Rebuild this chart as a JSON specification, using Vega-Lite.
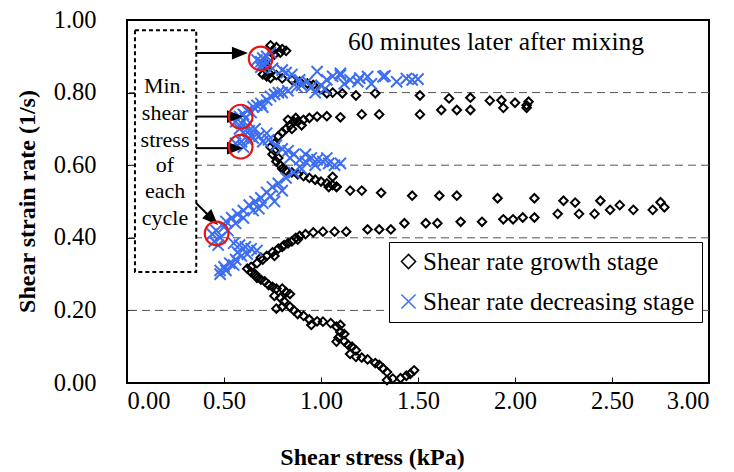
{
"$schema":"https://vega.github.io/schema/vega-lite/v6.json",
"width":582,"height":363,
"autosize":{"type":"none"},
"padding":{"left":127,"top":20,"right":25,"bottom":89},
"background":"white",
"config":{"view":{"stroke":"black","strokeWidth":2},"font":"Liberation Serif"},
"datasets":{
"pts":[
{"s":"g","x":0.74,"y":0.93},{"s":"g","x":0.77,"y":0.925},{"s":"g","x":0.80,"y":0.92},{"s":"g","x":0.82,"y":0.915},{"s":"g","x":0.79,"y":0.91},{"s":"g","x":0.76,"y":0.905},{"s":"g","x":0.73,"y":0.895},{"s":"g","x":0.71,"y":0.88},{"s":"g","x":0.72,"y":0.87},{"s":"g","x":0.75,"y":0.915},
{"s":"g","x":0.70,"y":0.85},{"s":"g","x":0.72,"y":0.845},{"s":"g","x":0.74,"y":0.84},{"s":"g","x":0.73,"y":0.855},{"s":"g","x":0.77,"y":0.848},{"s":"g","x":0.80,"y":0.839},{"s":"g","x":0.85,"y":0.835},{"s":"g","x":0.89,"y":0.83},{"s":"g","x":0.93,"y":0.825},{"s":"g","x":0.96,"y":0.821},{"s":"g","x":1.00,"y":0.81},{"s":"g","x":1.03,"y":0.798},{"s":"g","x":1.06,"y":0.80},
{"s":"g","x":1.11,"y":0.798},{"s":"g","x":1.18,"y":0.792},{"s":"g","x":1.28,"y":0.798},{"s":"g","x":1.51,"y":0.792},{"s":"g","x":1.66,"y":0.784},{"s":"g","x":1.77,"y":0.786},{"s":"g","x":1.87,"y":0.778},{"s":"g","x":1.93,"y":0.779},{"s":"g","x":2.00,"y":0.772},{"s":"g","x":2.07,"y":0.775},{"s":"g","x":2.06,"y":0.765},
{"s":"g","x":1.10,"y":0.732},{"s":"g","x":1.21,"y":0.740},{"s":"g","x":1.30,"y":0.740},{"s":"g","x":1.51,"y":0.740},{"s":"g","x":1.62,"y":0.752},{"s":"g","x":1.70,"y":0.752},{"s":"g","x":1.77,"y":0.752},{"s":"g","x":1.94,"y":0.758},{"s":"g","x":2.06,"y":0.758},
{"s":"g","x":0.84,"y":0.71},{"s":"g","x":0.86,"y":0.72},{"s":"g","x":0.88,"y":0.72},{"s":"g","x":0.91,"y":0.725},{"s":"g","x":0.94,"y":0.73},{"s":"g","x":0.98,"y":0.734},{"s":"g","x":1.03,"y":0.735},{"s":"g","x":0.83,"y":0.725},{"s":"g","x":0.87,"y":0.73},{"s":"g","x":0.90,"y":0.71},{"s":"g","x":0.85,"y":0.70},{"s":"g","x":0.82,"y":0.70},{"s":"g","x":0.80,"y":0.69},{"s":"g","x":0.78,"y":0.68},
{"s":"g","x":0.76,"y":0.66},{"s":"g","x":0.74,"y":0.65},{"s":"g","x":0.75,"y":0.63},{"s":"g","x":0.77,"y":0.61},{"s":"g","x":0.79,"y":0.60},{"s":"g","x":0.78,"y":0.62},{"s":"g","x":0.76,"y":0.64},
{"s":"g","x":0.80,"y":0.59},{"s":"g","x":0.82,"y":0.585},{"s":"g","x":0.85,"y":0.58},{"s":"g","x":0.88,"y":0.575},{"s":"g","x":0.91,"y":0.57},{"s":"g","x":0.94,"y":0.565},{"s":"g","x":0.97,"y":0.56},{"s":"g","x":1.00,"y":0.555},{"s":"g","x":1.03,"y":0.55},{"s":"g","x":1.06,"y":0.545},{"s":"g","x":1.08,"y":0.54},{"s":"g","x":1.04,"y":0.54},{"s":"g","x":1.06,"y":0.568},{"s":"g","x":1.08,"y":0.541},
{"s":"g","x":1.15,"y":0.530},{"s":"g","x":1.21,"y":0.530},{"s":"g","x":1.31,"y":0.524},{"s":"g","x":1.47,"y":0.516},{"s":"g","x":1.61,"y":0.516},{"s":"g","x":1.70,"y":0.516},{"s":"g","x":1.91,"y":0.509},{"s":"g","x":2.10,"y":0.509},{"s":"g","x":2.25,"y":0.502},{"s":"g","x":2.31,"y":0.497},{"s":"g","x":2.44,"y":0.502},{"s":"g","x":2.49,"y":0.477},{"s":"g","x":2.54,"y":0.490},{"s":"g","x":2.61,"y":0.477},{"s":"g","x":2.71,"y":0.477},{"s":"g","x":2.75,"y":0.498},{"s":"g","x":2.77,"y":0.484},
{"s":"g","x":0.96,"y":0.415},{"s":"g","x":1.01,"y":0.417},{"s":"g","x":1.07,"y":0.417},{"s":"g","x":1.13,"y":0.417},{"s":"g","x":1.24,"y":0.423},{"s":"g","x":1.30,"y":0.423},{"s":"g","x":1.36,"y":0.423},{"s":"g","x":1.43,"y":0.440},{"s":"g","x":1.54,"y":0.440},{"s":"g","x":1.60,"y":0.440},{"s":"g","x":1.72,"y":0.444},{"s":"g","x":1.83,"y":0.444},{"s":"g","x":1.94,"y":0.451},{"s":"g","x":1.99,"y":0.451},{"s":"g","x":2.04,"y":0.456},{"s":"g","x":2.10,"y":0.456},{"s":"g","x":2.22,"y":0.466},{"s":"g","x":2.33,"y":0.466},{"s":"g","x":2.41,"y":0.466},
{"s":"g","x":0.64,"y":0.32},{"s":"g","x":0.67,"y":0.33},{"s":"g","x":0.70,"y":0.34},{"s":"g","x":0.72,"y":0.35},{"s":"g","x":0.75,"y":0.36},{"s":"g","x":0.78,"y":0.37},{"s":"g","x":0.80,"y":0.375},{"s":"g","x":0.83,"y":0.385},{"s":"g","x":0.85,"y":0.39},{"s":"g","x":0.87,"y":0.40},{"s":"g","x":0.89,"y":0.405},{"s":"g","x":0.92,"y":0.41},{"s":"g","x":0.88,"y":0.395},{"s":"g","x":0.76,"y":0.35},{"s":"g","x":0.69,"y":0.345},{"s":"g","x":0.81,"y":0.38},
{"s":"g","x":0.62,"y":0.315},{"s":"g","x":0.64,"y":0.305},{"s":"g","x":0.66,"y":0.30},{"s":"g","x":0.67,"y":0.29},{"s":"g","x":0.69,"y":0.285},{"s":"g","x":0.71,"y":0.28},{"s":"g","x":0.73,"y":0.27},{"s":"g","x":0.75,"y":0.265},{"s":"g","x":0.77,"y":0.26},{"s":"g","x":0.80,"y":0.26},{"s":"g","x":0.82,"y":0.25},{"s":"g","x":0.84,"y":0.245},{"s":"g","x":0.76,"y":0.24},{"s":"g","x":0.79,"y":0.235},{"s":"g","x":0.81,"y":0.225},{"s":"g","x":0.77,"y":0.205},{"s":"g","x":0.80,"y":0.21},{"s":"g","x":0.84,"y":0.21},{"s":"g","x":0.86,"y":0.20},{"s":"g","x":0.88,"y":0.19},{"s":"g","x":0.91,"y":0.185},{"s":"g","x":0.94,"y":0.175},{"s":"g","x":0.98,"y":0.17},{"s":"g","x":0.95,"y":0.16},{"s":"g","x":1.01,"y":0.169},{"s":"g","x":1.05,"y":0.165},{"s":"g","x":1.10,"y":0.16},{"s":"g","x":1.08,"y":0.155},{"s":"g","x":1.10,"y":0.14},{"s":"g","x":1.12,"y":0.135},{"s":"g","x":1.09,"y":0.125},{"s":"g","x":1.08,"y":0.114},{"s":"g","x":1.12,"y":0.115},{"s":"g","x":1.14,"y":0.105},{"s":"g","x":1.16,"y":0.10},{"s":"g","x":1.18,"y":0.09},{"s":"g","x":1.15,"y":0.08},{"s":"g","x":1.18,"y":0.072},{"s":"g","x":1.21,"y":0.07},{"s":"g","x":1.24,"y":0.065},{"s":"g","x":1.28,"y":0.055},{"s":"g","x":1.30,"y":0.05},{"s":"g","x":1.32,"y":0.04},{"s":"g","x":1.34,"y":0.03},{"s":"g","x":1.34,"y":0.008},{"s":"g","x":1.37,"y":0.012},{"s":"g","x":1.41,"y":0.013},{"s":"g","x":1.44,"y":0.02},{"s":"g","x":1.48,"y":0.035},{"s":"g","x":1.46,"y":0.025},
{"s":"d","x":0.67,"y":0.89},{"s":"d","x":0.69,"y":0.885},{"s":"d","x":0.70,"y":0.895},{"s":"d","x":0.71,"y":0.875},{"s":"d","x":0.69,"y":0.87},{"s":"d","x":0.72,"y":0.90},{"s":"d","x":0.74,"y":0.91},{"s":"d","x":0.70,"y":0.88},
{"s":"d","x":0.75,"y":0.867},{"s":"d","x":0.80,"y":0.862},{"s":"d","x":0.82,"y":0.855},{"s":"d","x":0.85,"y":0.85},{"s":"d","x":0.89,"y":0.835},{"s":"d","x":0.93,"y":0.83},{"s":"d","x":0.98,"y":0.858},{"s":"d","x":1.03,"y":0.835},{"s":"d","x":1.06,"y":0.845},{"s":"d","x":1.10,"y":0.848},{"s":"d","x":1.15,"y":0.835},{"s":"d","x":1.20,"y":0.84},{"s":"d","x":1.10,"y":0.853},{"s":"d","x":1.12,"y":0.824},{"s":"d","x":1.19,"y":0.830},{"s":"d","x":1.24,"y":0.844},{"s":"d","x":1.26,"y":0.824},{"s":"d","x":1.33,"y":0.846},{"s":"d","x":1.39,"y":0.830},{"s":"d","x":1.44,"y":0.839},{"s":"d","x":1.47,"y":0.835},{"s":"d","x":1.50,"y":0.837},{"s":"d","x":1.32,"y":0.844},{"s":"d","x":1.00,"y":0.82},{"s":"d","x":0.95,"y":0.815},{"s":"d","x":0.97,"y":0.80},{"s":"d","x":1.02,"y":0.81},
{"s":"d","x":0.58,"y":0.734},{"s":"d","x":0.60,"y":0.74},{"s":"d","x":0.62,"y":0.75},{"s":"d","x":0.65,"y":0.761},{"s":"d","x":0.67,"y":0.765},{"s":"d","x":0.69,"y":0.77},{"s":"d","x":0.72,"y":0.78},{"s":"d","x":0.74,"y":0.79},{"s":"d","x":0.76,"y":0.795},{"s":"d","x":0.80,"y":0.80},{"s":"d","x":0.83,"y":0.805},{"s":"d","x":0.875,"y":0.816},{"s":"d","x":0.90,"y":0.82},{"s":"d","x":0.61,"y":0.73},{"s":"d","x":0.64,"y":0.745},{"s":"d","x":0.70,"y":0.76},{"s":"d","x":0.78,"y":0.80},
{"s":"d","x":0.56,"y":0.72},{"s":"d","x":0.59,"y":0.715},{"s":"d","x":0.62,"y":0.71},{"s":"d","x":0.58,"y":0.70},{"s":"d","x":0.60,"y":0.69},{"s":"d","x":0.63,"y":0.695},{"s":"d","x":0.66,"y":0.70},{"s":"d","x":0.64,"y":0.68},
{"s":"d","x":0.56,"y":0.66},{"s":"d","x":0.59,"y":0.665},{"s":"d","x":0.62,"y":0.67},{"s":"d","x":0.65,"y":0.675},{"s":"d","x":0.68,"y":0.68},{"s":"d","x":0.72,"y":0.688},{"s":"d","x":0.70,"y":0.665},{"s":"d","x":0.73,"y":0.67},{"s":"d","x":0.60,"y":0.65},
{"s":"d","x":0.77,"y":0.655},{"s":"d","x":0.80,"y":0.645},{"s":"d","x":0.83,"y":0.64},{"s":"d","x":0.86,"y":0.63},{"s":"d","x":0.84,"y":0.62},{"s":"d","x":0.89,"y":0.615},{"s":"d","x":0.92,"y":0.61},{"s":"d","x":0.95,"y":0.62},{"s":"d","x":0.98,"y":0.615},{"s":"d","x":1.01,"y":0.61},{"s":"d","x":1.04,"y":0.605},{"s":"d","x":1.07,"y":0.60},{"s":"d","x":1.10,"y":0.605},{"s":"d","x":0.97,"y":0.60},{"s":"d","x":1.03,"y":0.62},{"s":"d","x":0.92,"y":0.63},
{"s":"d","x":0.90,"y":0.59},{"s":"d","x":0.86,"y":0.58},{"s":"d","x":0.82,"y":0.565},{"s":"d","x":0.78,"y":0.55},{"s":"d","x":0.75,"y":0.54},{"s":"d","x":0.72,"y":0.525},{"s":"d","x":0.69,"y":0.51},{"s":"d","x":0.66,"y":0.50},{"s":"d","x":0.63,"y":0.49},{"s":"d","x":0.60,"y":0.475},{"s":"d","x":0.57,"y":0.465},{"s":"d","x":0.54,"y":0.455},{"s":"d","x":0.51,"y":0.445},{"s":"d","x":0.74,"y":0.515},{"s":"d","x":0.80,"y":0.53},{"s":"d","x":0.70,"y":0.495},{"s":"d","x":0.65,"y":0.475},{"s":"d","x":0.56,"y":0.44},{"s":"d","x":0.60,"y":0.455},{"s":"d","x":0.68,"y":0.48},{"s":"d","x":0.76,"y":0.50},
{"s":"d","x":0.44,"y":0.41},{"s":"d","x":0.46,"y":0.42},{"s":"d","x":0.48,"y":0.40},{"s":"d","x":0.45,"y":0.39},{"s":"d","x":0.50,"y":0.43},{"s":"d","x":0.47,"y":0.38},{"s":"d","x":0.52,"y":0.42},
{"s":"d","x":0.55,"y":0.385},{"s":"d","x":0.58,"y":0.38},{"s":"d","x":0.61,"y":0.375},{"s":"d","x":0.64,"y":0.37},{"s":"d","x":0.67,"y":0.365},{"s":"d","x":0.62,"y":0.355},{"s":"d","x":0.59,"y":0.35},{"s":"d","x":0.56,"y":0.34},{"s":"d","x":0.53,"y":0.33},{"s":"d","x":0.50,"y":0.32},{"s":"d","x":0.48,"y":0.30},{"s":"d","x":0.51,"y":0.31},{"s":"d","x":0.55,"y":0.325},{"s":"d","x":0.48,"y":0.31},{"s":"d","x":0.57,"y":0.36}
]},
"layer":[
{"data":{"values":[{"y":0.2},{"y":0.4},{"y":0.6},{"y":0.8}]},
 "mark":{"type":"rule","color":"#555555","strokeWidth":1,"strokeDash":[8,5]},
 "encoding":{"y":{"field":"y","type":"quantitative","scale":{"domain":[0,1]},
   "axis":{"values":[0,0.2,0.4,0.6,0.8,1.0],"format":".2f","grid":false,"domain":false,"tickSize":-8,"tickColor":"black","tickWidth":1,
   "labelFontSize":24.5,"labelColor":"black","labelPadding":39,"labelFont":"Liberation Serif",
   "title":"Shear strain rate (1/s)","titleFont":"Liberation Serif","titleFontSize":24,"titleFontWeight":"bold","titleColor":"black",
   "titleX":-93,"titleY":181,"titleBaseline":"alphabetic","titleAlign":"center"}}}},
{"data":{"values":[{"x1":0.041,"x2":0.357,"y1":0.306,"y2":0.972}]},
 "mark":{"type":"rect","fill":"white","stroke":"black","strokeWidth":2,"strokeDash":[4,3]},
 "encoding":{"x":{"field":"x1","type":"quantitative","scale":{"domain":[0,3]}},"x2":{"field":"x2"},"y":{"field":"y1","type":"quantitative"},"y2":{"field":"y2"}}},
{"data":{"name":"pts"},
 "transform":[{"filter":"datum.s == 'g'"}],
 "mark":{"type":"point","filled":false,"strokeWidth":2,"size":72,"opacity":1},
 "encoding":{
  "x":{"field":"x","type":"quantitative","scale":{"domain":[0,3]},
   "axis":{"values":[0,0.5,1,1.5,2,2.5,3],"format":".2f","grid":false,"domain":false,"tickSize":-6,"tickColor":"black","tickWidth":1,
   "labelFontSize":24.5,"labelColor":"black","labelPadding":12,"labelFont":"Liberation Serif",
   "title":"Shear stress (kPa)","titleFont":"Liberation Serif","titleFontSize":24,"titleFontWeight":"bold","titleColor":"black",
   "titleX":245,"titleY":81,"titleBaseline":"alphabetic","titleAlign":"center"}},
  "y":{"field":"y","type":"quantitative","scale":{"domain":[0,1]}},
  "color":{"field":"s","type":"nominal","scale":{"domain":["g","d"],"range":["black","#3d6ef0"]},
   "legend":{"orient":"none","legendX":262,"legendY":222,"title":null,"strokeColor":"black","fillColor":"white","padding":7,
    "labelFont":"Liberation Serif","labelFontSize":25,"labelColor":"black","labelLimit":400,"symbolSize":200,"symbolStrokeWidth":1.5,"rowPadding":14,"labelOffset":2,
    "labelExpr":"datum.value == 'g' ? 'Shear rate growth stage' : 'Shear rate decreasing stage'"}},
  "shape":{"field":"s","type":"nominal","scale":{"domain":["g","d"],"range":["diamond","M-1,-1L1,1M-1,1L1,-1"]}}
 }},
{"data":{"name":"pts"},
 "transform":[{"filter":"datum.s == 'd'"}],
 "mark":{"type":"point","filled":false,"strokeWidth":2,"size":125,"opacity":1},
 "encoding":{
  "x":{"field":"x","type":"quantitative"},
  "y":{"field":"y","type":"quantitative"},
  "color":{"field":"s","type":"nominal"},
  "shape":{"field":"s","type":"nominal"}
 }},
{"data":{"values":[{"x1":0.356,"x2":0.55,"y":0.909},{"x1":0.356,"x2":0.52,"y":0.734},{"x1":0.356,"x2":0.52,"y":0.647}]},
 "mark":{"type":"rule","color":"black","strokeWidth":2},
 "encoding":{"x":{"field":"x1","type":"quantitative"},"x2":{"field":"x2"},"y":{"field":"y","type":"quantitative"}}},
{"data":{"values":[{"x1":0.356,"x2":0.418,"y1":0.496,"y2":0.463}]},
 "mark":{"type":"rule","color":"black","strokeWidth":2},
 "encoding":{"x":{"field":"x1","type":"quantitative"},"x2":{"field":"x2"},"y":{"field":"y1","type":"quantitative"},"y2":{"field":"y2"}}},
{"data":{"values":[{"x":0.582,"y":0.909},{"x":0.557,"y":0.734},{"x":0.557,"y":0.647}]},
 "mark":{"type":"point","shape":"M-1,-0.8L1,0L-1,0.8Z","filled":true,"color":"black","size":256,"opacity":1},
 "encoding":{"x":{"field":"x","type":"quantitative"},"y":{"field":"y","type":"quantitative"}}},
{"data":{"values":[{"x":0.440,"y":0.451}]},
 "mark":{"type":"point","shape":"M-1,-0.8L1,0L-1,0.8Z","filled":true,"color":"black","size":256,"opacity":1,"angle":45},
 "encoding":{"x":{"field":"x","type":"quantitative"},"y":{"field":"y","type":"quantitative"}}},
{"data":{"values":[{"x":0.689,"y":0.894},{"x":0.586,"y":0.734},{"x":0.586,"y":0.651},{"x":0.462,"y":0.412}]},
 "mark":{"type":"point","shape":"circle","filled":false,"stroke":"#ee1111","strokeWidth":2.2,"size":560,"opacity":1},
 "encoding":{"x":{"field":"x","type":"quantitative"},"y":{"field":"y","type":"quantitative"}}},
{"data":{"values":[{"t":"Min.","x":0.196,"y":0.798},{"t":"shear","x":0.196,"y":0.7245},{"t":"stress","x":0.196,"y":0.651},{"t":"of","x":0.196,"y":0.582},{"t":"each","x":0.196,"y":0.509},{"t":"cycle","x":0.196,"y":0.435}]},
 "mark":{"type":"text","font":"Liberation Serif","fontSize":22,"color":"black","align":"center","baseline":"alphabetic"},
 "encoding":{"x":{"field":"x","type":"quantitative"},"y":{"field":"y","type":"quantitative"},"text":{"field":"t"}}},
{"data":{"values":[{"t":"60 minutes later after mixing","x":1.139,"y":0.917}]},
 "mark":{"type":"text","font":"Liberation Serif","fontSize":25.5,"color":"black","align":"left","baseline":"alphabetic"},
 "encoding":{"x":{"field":"x","type":"quantitative"},"y":{"field":"y","type":"quantitative"},"text":{"field":"t"}}}
],
"resolve":{"scale":{"x":"shared","y":"shared"}}
}
